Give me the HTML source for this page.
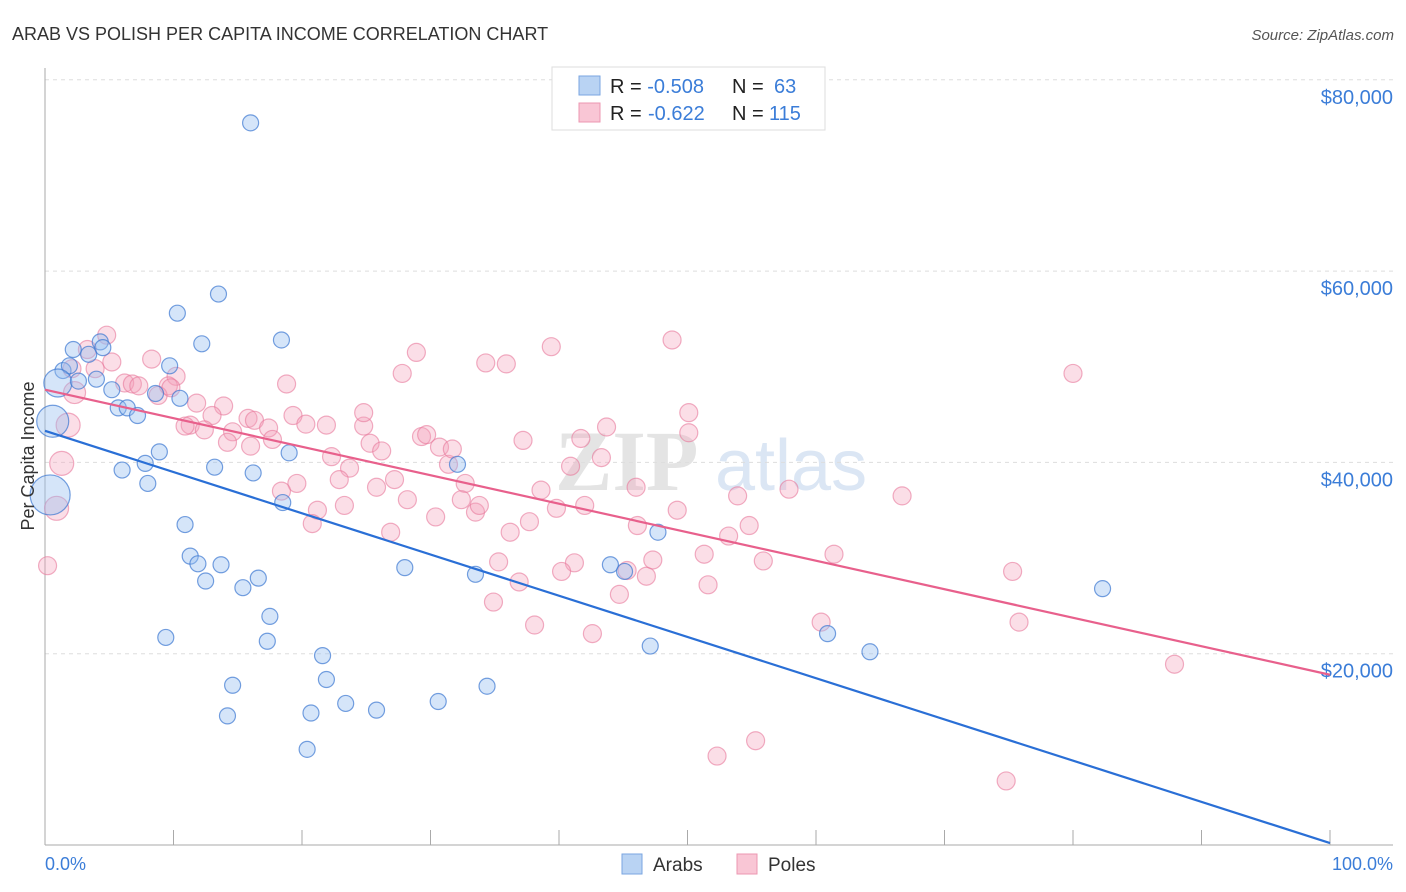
<!DOCTYPE html>
<html><head><meta charset="utf-8"><style>
body{margin:0;background:#fff;font-family:"Liberation Sans",sans-serif;}
svg{display:block}
</style></head><body>
<svg id="chart" width="1406" height="892" xmlns="http://www.w3.org/2000/svg">
<text x="12" y="40" font-size="18" fill="#333">ARAB VS POLISH PER CAPITA INCOME CORRELATION CHART</text>
<text x="1394" y="40" font-size="15" fill="#555" font-style="italic" text-anchor="end">Source: ZipAtlas.com</text>
<g><text x="555" y="490" font-size="86" fill="#e4e4e4" font-family="Liberation Serif,serif" font-weight="bold">ZIP</text><text x="715" y="490" font-size="72" fill="#dbe6f4">atlas</text></g>
<g id="grid"></g>
<g id="axes"></g>
<g id="points"></g>
<g id="lines"></g>
<text transform="translate(34,456) rotate(-90)" font-size="18" fill="#333" text-anchor="middle">Per Capita Income</text>
<text x="45" y="870" font-size="18" fill="#3b7dd8">0.0%</text>
<text x="1393" y="870" font-size="18" fill="#3b7dd8" text-anchor="end">100.0%</text>
<g>
<rect x="552" y="67" width="273" height="63" fill="#fff" stroke="#ddd"/>
<rect x="579" y="76" width="21" height="19" fill="#b9d3f3" stroke="#7aa6e0"/>
<rect x="579" y="103" width="21" height="19" fill="#f9c6d5" stroke="#ec97b1"/>
<text x="610" y="93" font-size="20" fill="#222">R = <tspan fill="#3b7dd8">-0.508</tspan><tspan x="732">N = </tspan><tspan x="774" fill="#3b7dd8">63</tspan></text>
<text x="610" y="120" font-size="20" fill="#222">R = <tspan x="648" fill="#3b7dd8">-0.622</tspan><tspan x="732">N = </tspan><tspan x="769" fill="#3b7dd8">115</tspan></text>
</g>
<g>
<rect x="622" y="854" width="20" height="20" fill="#b9d3f3" stroke="#7aa6e0"/>
<text x="653" y="871" font-size="19" fill="#333">Arabs</text>
<rect x="737" y="854" width="20" height="20" fill="#f9c6d5" stroke="#ec97b1"/>
<text x="768" y="871" font-size="19" fill="#333">Poles</text>
</g>
</svg>
<script>
const yTicks=[20000,40000,60000,80000];
const yTickLabels=["$20,000","$40,000","$60,000","$80,000"];
const arabX=[16.0,10.3,13.5,12.2,18.4,2.2,4.3,3.4,4.5,1.4,1.9,1.0,2.6,4.0,5.2,9.7,8.6,10.5,5.7,6.4,7.2,0.6,8.9,7.8,6.0,8.0,13.2,16.2,19.0,32.1,0.4,18.5,10.9,11.3,11.9,13.7,12.5,15.4,16.6,17.5,17.3,9.4,14.6,14.2,21.6,21.9,20.7,20.4,23.4,25.8,30.6,34.4,28.0,33.5,44.0,45.1,47.7,47.1,60.9,64.2,82.3];
const arabY=[75.5,55.6,57.6,52.4,52.8,51.8,52.6,51.3,52.0,49.6,50.1,48.3,48.5,48.7,47.6,50.1,47.2,46.7,45.7,45.7,44.9,44.3,41.1,39.9,39.2,37.8,39.5,38.9,41.0,39.8,36.6,35.8,33.5,30.2,29.4,29.3,27.6,26.9,27.9,23.9,21.3,21.7,16.7,13.5,19.8,17.3,13.8,10.0,14.8,14.1,15.0,16.6,29.0,28.3,29.3,28.6,32.7,20.8,22.1,20.2,26.8];
const arabBig={11:14,21:16,30:20};
const poleX=[4.8,3.3,5.2,8.3,3.9,2.1,10.2,6.2,6.8,7.3,9.6,18.8,2.3,8.8,9.8,11.8,13.9,13.0,11.3,10.9,12.4,14.6,14.2,15.8,16.3,17.4,16.0,17.7,19.3,20.3,21.9,22.3,23.7,24.8,24.8,25.3,26.2,25.8,22.9,19.6,18.4,21.2,20.8,23.3,27.2,28.2,26.9,30.4,29.3,29.7,30.7,31.4,31.7,32.7,32.4,33.5,33.8,27.8,28.9,34.3,35.9,39.4,48.8,37.2,41.7,43.7,40.9,43.3,38.6,39.8,42.0,46.0,49.2,50.1,50.1,37.7,36.2,35.3,36.9,41.2,40.2,45.3,46.8,47.3,46.1,44.7,34.9,38.1,42.6,51.3,51.6,53.2,53.9,54.8,55.9,57.9,61.4,60.4,66.7,75.3,75.8,80.0,87.9,52.3,55.3,74.8,0.2,0.9,1.3,1.8];
const poleY=[53.3,51.8,50.5,50.8,49.8,49.8,49.0,48.3,48.2,48.0,48.0,48.2,47.3,47.0,47.8,46.2,45.9,44.9,43.9,43.8,43.4,43.2,42.1,44.6,44.4,43.6,41.7,42.4,44.9,44.0,43.9,40.6,39.4,43.8,45.2,42.0,41.2,37.4,38.2,37.8,37.0,35.0,33.6,35.5,38.2,36.1,32.7,34.3,42.7,42.9,41.6,39.8,41.4,37.8,36.1,34.8,35.5,49.3,51.5,50.4,50.3,52.1,52.8,42.3,42.5,43.7,39.6,40.5,37.1,35.2,35.5,37.4,35.0,43.1,45.2,33.8,32.7,29.6,27.5,29.5,28.6,28.7,28.1,29.8,33.4,26.2,25.4,23.0,22.1,30.4,27.2,32.3,36.5,33.4,29.7,37.2,30.4,23.3,36.5,28.6,23.3,49.3,18.9,9.3,10.9,6.7,29.2,35.2,39.9,43.9];
const poleBig={12:11,107:12,108:12,109:12,110:12};
const arabTrend=[43.3,0.2];
const poleTrend=[47.6,17.8];

const X=p=>45+p*12.85;
const Y=v=>845-v*9.565;
const NS='http://www.w3.org/2000/svg';
function mk(t,a,parent){const e=document.createElementNS(NS,t);for(const k in a)e.setAttribute(k,a[k]);parent.appendChild(e);return e;}
const grid=document.getElementById('grid'),axes=document.getElementById('axes'),pts=document.getElementById('points'),lines=document.getElementById('lines');
yTicks.forEach((t,i)=>{
 const g=mk('line',{x1:45,x2:1393,y1:Y(t/1000),y2:Y(t/1000),stroke:'#ddd','stroke-dasharray':'4,4'},grid);
 
 
 const tx=mk('text',{x:1393,y:Y(t/1000)+24,'font-size':20,fill:'#3b7dd8','text-anchor':'end'},grid);
 tx.textContent=yTickLabels[i];
 
 
});
const ax=mk('line',{x1:45,x2:45,y1:68,y2:845,stroke:'#aaa'},axes);


const bx=mk('line',{x1:45,x2:1393,y1:845,y2:845,stroke:'#aaa'},axes);


for(let i=1;i<=10;i++){const tk=mk('line',{x1:X(i*10),x2:X(i*10),y1:830,y2:845,stroke:'#aaa'},axes);
 
 }
poleX.forEach((x,i)=>{const c=mk('circle',{cx:X(x),cy:Y(poleY[i]),r:poleBig[i]||9,fill:'rgba(244,160,185,0.35)',stroke:'rgba(232,120,155,0.6)','stroke-width':1.2},pts);
 
 });
arabX.forEach((x,i)=>{const c=mk('circle',{cx:X(x),cy:Y(arabY[i]),r:arabBig[i]||8,fill:'rgba(150,190,240,0.4)',stroke:'rgba(60,120,210,0.7)','stroke-width':1.2},pts);
 
 });
const la=mk('line',{x1:X(0),y1:Y(arabTrend[0]),x2:X(100),y2:Y(arabTrend[1]),stroke:'#2a6fd6','stroke-width':2.2},lines);


const lp=mk('line',{x1:X(0),y1:Y(poleTrend[0]),x2:X(100),y2:Y(poleTrend[1]),stroke:'#e8608c','stroke-width':2.2},lines);


</script>
</body></html>
